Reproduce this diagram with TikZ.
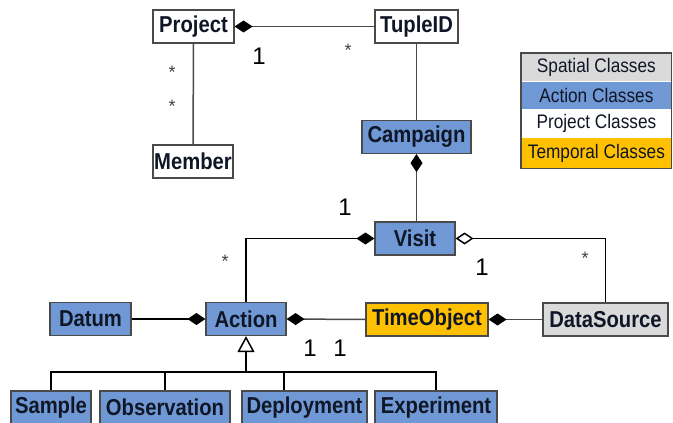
\documentclass[tikz,border=0pt]{standalone}
\usepackage{fontspec}
\setmainfont{Liberation Sans}
\newfontfamily\classfont{Liberation Sans}[FakeStretch=0.88]
\usetikzlibrary{arrows.meta,positioning}
\definecolor{actionblue}  {HTML}{6F98D4}
\definecolor{timeorange}  {HTML}{FFC000}
\definecolor{spacegray}   {HTML}{DADADA}
\definecolor{linegray}    {HTML}{4A4A4A}
\definecolor{boxtext}     {HTML}{0F1626}

\begin{document}
\begin{tikzpicture}[
  cls/.style={draw=linegray,line width=0.6pt,minimum height=16.5pt,
              inner sep=0pt,align=center,text=boxtext,
              font=\classfont\fontsize{11.5}{13}\selectfont\bfseries},
  project/.style={cls,fill=white},
  action/.style={cls,fill=actionblue},
  temporal/.style={cls,fill=timeorange},
  spatial/.style={cls,fill=spacegray},
  legend/.style={minimum width=75pt,minimum height=13.75pt,inner sep=0pt,
                 text=boxtext,font=\classfont\fontsize{9.8}{11}\selectfont},
  assoc/.style={draw=linegray,line width=0.75pt},
  comp/.style={assoc,{Diamond[length=9pt,width=6pt,black]}-},
  aggr/.style={assoc,{Diamond[open,length=9pt,width=6pt,fill=white,black]}-},
  gen/.style={assoc,{Triangle[open,length=8pt,width=8.5pt,fill=white,black]}-},
  mult/.style={font=\fontsize{12}{14}\selectfont,inner sep=0pt},
  star/.style={font=\fontsize{9}{11}\selectfont,inner sep=0pt,text=black!75},
  x=0.5pt,y=-0.5pt
]
\clip (0,0) rectangle (673,422);
% Project classes
\node[project,minimum width=40.5pt] (Project) at (193.5,26.5) {Project};
\node[project,minimum width=41.5pt] (TupleID) at (416.5,26.5) {TupleID};
\node[project,minimum width=40pt]   (Member)  at (193,161.5)  {Member};
% Action classes
\node[action,minimum width=54.5pt]  (Campaign) at (416.5,137)  {Campaign};
\node[action,minimum width=40pt]    (Visit)    at (415,238.5)  {Visit};
\node[action,minimum width=40.5pt]  (Datum)    at (90.5,319)   {Datum};
\node[action,minimum width=40pt]    (Action)   at (246,319)    {Action};
% Temporal / spatial
\node[temporal,minimum width=61pt]  (TimeObject) at (427,319.5)   {TimeObject};
\node[spatial,minimum width=62.5pt] (DataSource) at (605.5,319.5) {DataSource};
% Action subclasses
\node[action,minimum width=40pt]    (Sample)      at (51,407.5)    {Sample};
\node[action,minimum width=65pt]    (Observation) at (165,407.5)   {Observation};
\node[action,minimum width=62.5pt]  (Deployment)  at (304.5,407.5) {Deployment};
\node[action,minimum width=61pt]    (Experiment)  at (436,407.5)   {Experiment};
% Legend
\node[legend,fill=spacegray,anchor=north west] (legspatial) at (521,53) {Spatial Classes};
\node[legend,fill=actionblue,below=0pt of legspatial] (legaction)   {Action Classes};
\node[legend,fill=white,below=0pt of legaction]        (legproject)  {Project Classes};
\node[legend,fill=timeorange,below=0pt of legproject,
      minimum height=15pt]                             (legtemporal) {Temporal Classes};
\draw[linegray,line width=0.6pt] (legspatial.north west) rectangle (legtemporal.south east);

\draw[comp] (Project.east) -- (TupleID.west);
\draw[assoc] (Project.south) -- (Member.north);
\draw[assoc] (TupleID.south) -- (Campaign.north);
\draw[comp] (Campaign.south) -- (Campaign.south |- Visit.north);
\draw[comp,draw=black] (Visit.west) -| (Action.north);
\draw[aggr,draw=black] (Visit.east) -| (DataSource.north);
\draw[comp,draw=black] (Action.west) -- (Datum.east);
\draw[comp] (Action.east) -- (TimeObject.west);
\draw[comp] (TimeObject.east) -- (DataSource.west);
% Generalization
\coordinate (bus) at (246,372);
\draw[gen,draw=black] (Action.south) -- (bus);
\draw[assoc,draw=black] (Sample.north) |- (bus);
\draw[assoc,draw=black] (Observation.north) |- (bus);
\draw[assoc,draw=black] ([xshift=-10.25pt]Deployment.north) |- (bus);
\draw[assoc,draw=black] (Experiment.north) |- (bus);
% Multiplicities
\node[mult] (mProj)   at (259,56)  {1};
\node[star] (mTuple)  at (348,50)  {*};
\node[star] (mMemA)   at (172,72)  {*};
\node[star] (mMemB)   at (172,106) {*};
\node[mult] (mVisit)  at (345,207) {1};
\node[star] (mAct)    at (225,261) {*};
\node[mult] (mAggr)   at (482,267) {1};
\node[star] (mSrc)    at (585,258) {*};
\node[mult] (mTimeA)  at (310,348) {1};
\node[mult] (mTimeB)  at (340,348) {1};
\end{tikzpicture}
\end{document}
